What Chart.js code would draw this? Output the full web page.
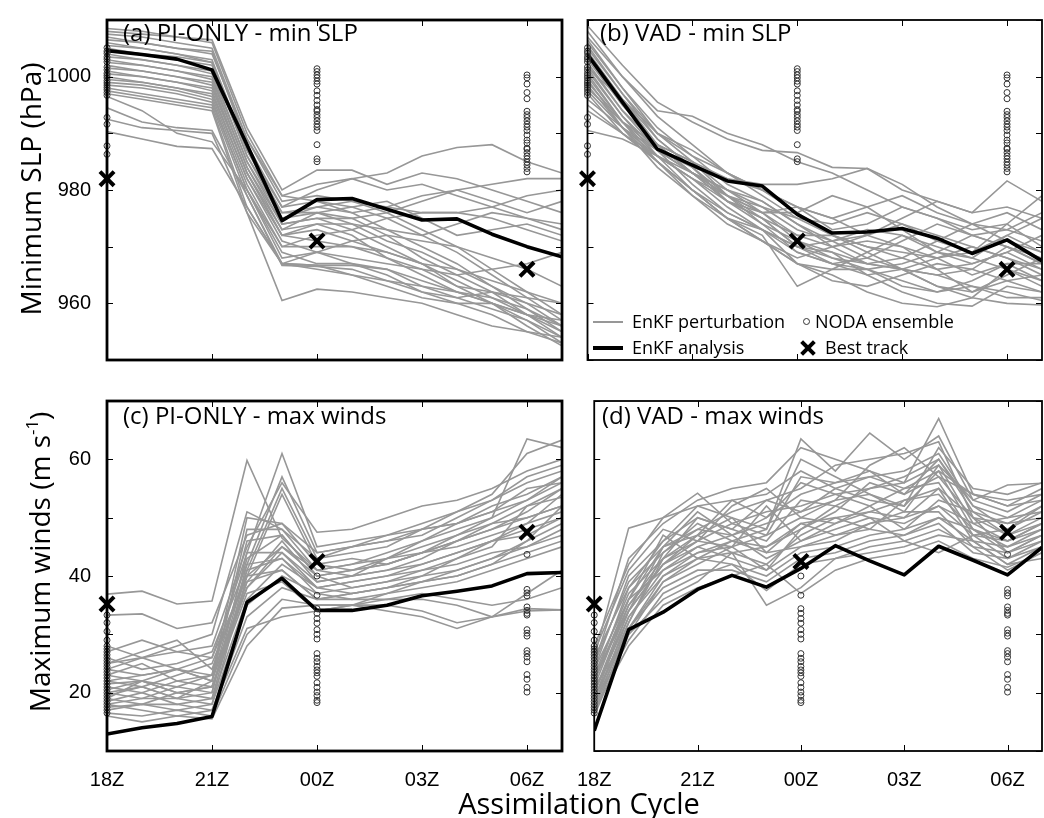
<!DOCTYPE html>
<html>
<head>
<meta charset="utf-8">
<script src="https://cdn.jsdelivr.net/npm/chart.js@4.4.1/dist/chart.umd.min.js"></script>
<style>
  html, body { margin:0; padding:0; background:#fff; }
  body { width:1044px; height:818px; position:relative; overflow:hidden; }
  canvas { position:absolute; }
  .t { position:absolute; font-family:"Open Sans", "Noto Sans", sans-serif; color:#000; white-space:nowrap; line-height:1; }
  .ptitle { font-size:24px; }
  .ytitle { font-size:28px; transform:translate(-50%,-50%) rotate(-90deg); }
  .ytitle sup { font-size:60%; vertical-align:0.7em; line-height:0; }
  .leg { font-size:18px; }
  .legline { position:absolute; }
  .legcirc { position:absolute; width:5px; height:5px; border:1px solid #333; border-radius:50%; }
  .legx { position:absolute; width:14px; height:14px; }
  .legx:before, .legx:after { content:""; position:absolute; left:-2px; top:5px; width:18px; height:4px; background:#000; }
  .legx:before { transform:rotate(45deg); }
  .legx:after { transform:rotate(-45deg); }
</style>
</head>
<body>
<canvas id="pa" width="526" height="380" style="left:40px;top:0px"></canvas>
<canvas id="pb" width="476" height="380" style="left:568px;top:0px"></canvas>
<canvas id="pc" width="526" height="437" style="left:40px;top:381px"></canvas>
<canvas id="pd" width="476" height="437" style="left:568px;top:381px"></canvas>

<div class="t ptitle" style="left:123px;top:20px">(a) PI-ONLY - min SLP</div>
<div class="t ptitle" style="left:600px;top:20px">(b) VAD - min SLP</div>
<div class="t ptitle" style="left:123px;top:403px">(c) PI-ONLY - max winds</div>
<div class="t ptitle" style="left:602px;top:403px">(d) VAD - max winds</div>

<div class="t ytitle" style="left:30px;top:189px">Minimum SLP (hPa)</div>
<div class="t ytitle" style="left:39px;top:562px">Maximum winds (m s<sup>-1</sup>)</div>
<div class="t" style="left:579px;top:802px;font-size:29px;transform:translate(-50%,-50%)">Assimilation Cycle</div>

<!-- legend in panel (b) -->
<div class="legline" style="left:593px;top:321px;width:30px;height:2px;background:#979797"></div>
<div class="t leg" style="left:632px;top:312px">EnKF perturbation</div>
<div class="legline" style="left:593px;top:346px;width:30px;height:4px;background:#000"></div>
<div class="t leg" style="left:632px;top:338px">EnKF analysis</div>
<div class="legcirc" style="left:803px;top:318px"></div>
<div class="t leg" style="left:815px;top:312px">NODA ensemble</div>
<div class="legx" style="left:801px;top:341px"></div>
<div class="t leg" style="left:825px;top:338px">Best track</div>

<script>
// ---------------- data ----------------
const HOURS = [0,1,2,3,4,5,6,7,8,9,10,11,12,13];
const TICK_HOURS = [0,3,6,9,12];
const TICK_LABELS = ['18Z','21Z','00Z','03Z','06Z'];
const SLP_TICKS = [950,960,970,980,990,1000,1010];
const SLP_LABELED = [960,980,1000];
const WIND_TICKS = [10,20,30,40,50,60,70];
const WIND_LABELED = [20,40,60];

const BEST_HOURS = [0,6,12];
const BEST_SLP = [982,971,966];
const BEST_WIND = [35.2,42.5,47.5];

const NODA_HOURS = [0,6,12];
const NODA_SLP_18Z = [1005.1,1004.5,1004.1,1003.5,1003.1,1002.6,1001.7,1001.2,1000.6,1000.2,999.8,999.3,998.9,998.5,998.1,997.7,997.2,996.7,992.8,991.6,987.8,986.3];
const NODA_SLP_00Z = [1001.4,1000.9,1000.3,999.8,999.2,998.7,997.5,996.7,995.8,995.0,994.2,993.9,993.3,992.8,992.2,991.6,991.1,990.5,988.0,985.5,985.0];
const NODA_SLP_06Z = [1000.3,999.8,998.7,997.2,996.1,993.9,993.3,992.8,992.2,991.6,991.1,990.5,989.7,988.8,988.3,987.4,987.2,986.6,986.0,985.5,984.9,984.4,983.8,983.2];
const NODA_WIND_18Z = [33.3,32,30.5,29,28,27.5,27,26.5,26,25.5,25,24.5,24,23.5,23,22.5,22,21.5,21,20.5,20,19.5,19,18.5,18,17.5,17,16.5];
const NODA_WIND_00Z = [40,36.7,34.4,33.6,32.7,31.9,30.8,30,29.2,26.7,25.9,25.3,24.5,23.9,23.4,22.8,21.7,20.9,20.1,19.5,18.7,18.3];
const NODA_WIND_06Z = [43.7,37.7,37.1,36.6,34.7,34.1,33.6,33.3,30.8,30.2,29.7,27.2,26.7,26.1,25.3,23.1,22.3,20.9,20.1];

const PI_SLP_ANALYSIS = [1004.6,1003.9,1003.1,1001.2,988,974.6,978.3,978.5,976.6,974.7,974.9,972.2,970,968.2];
const PI_SLP_MEMBERS = [
 [1008.5,1008,1007,1006,990,979,981,982,980,981,979,977,975,974],
 [1008,1007.5,1007,1006.5,991,980,983.5,983.5,981,983,982,980,978,976],
 [1007.5,1007,1006,1005,989,978,979,978,976,973,970,966,962,958],
 [1007,1006,1005,1004.5,988,977,978,977,975,972,969,965,961,957],
 [1006.5,1006,1005,1004,989,979,978,976,973,970,967,963,959,955],
 [1006,1005,1004,1003,987,976,977,976,977,979,980,978,976,978],
 [1005.5,1005,1004,1002.5,987,977,980,982,983,986,987.5,988,985,983],
 [1005,1004,1003,1002,986,975,976,975,972,968,965,962,958,954],
 [1004.5,1004,1003.5,1002.5,986,976,976,974,971,969,966,963,960,956],
 [1004,1003,1002,1001,985,975,977,978,977,976,976,977,979,980],
 [1003.5,1003,1002,1000.5,985,974,975,973,970,967,963,960,957,953],
 [1003,1002,1001,1000,984,973,976,977,978,975,972,973,974,972],
 [1002.5,1002,1001,999.5,984,974,975,975,976,978,980,981,982,982],
 [1002,1001,1000,999,983,973,974,972,968,965,962,960,956,952.5],
 [1001.5,1001,1000,998.5,983,972,974,974,973,972,974,976,975,973],
 [1001,1000,999,998,983,972,973,971,969,967,966,964,962,960],
 [1000.5,1000,999,997.5,982,972,971,970,969,967,964,961,958,955],
 [1000,999,998,997,982,971,969,967,965,962,960,958,955,953],
 [999.5,999,998,996.5,981,970,970,970,968,966,965,966,967,969],
 [999,998.5,997.5,996,980,969,967,967,966,963,961,959,957,954],
 [998.5,998,997,995.5,980,968,969,971,972,971,970,968,966,963],
 [998,997,996,995,979,967,966.7,966.7,966,964,962,960,958,956],
 [997.5,996.5,995.5,994.5,977,967,966.7,965,964,962,961,962,961,960],
 [997,996,995,994,976,967,966,965,963,961,960,960,958,957],
 [994.5,992,991,990.5,979,966.7,966.5,966,964,963,962,961,959,956],
 [992.5,991,990.5,990,976,960.5,962.5,962,961,960,958,956,955,954],
 [990.3,989,987.7,987.3,977,967,969,968,967,966,963,962,960,958],
 [996.5,994,990,988.5,980,970,972,973,975,976,976,975,973,971]
];

const VAD_SLP_ANALYSIS = [1003.9,995.5,987.2,984.4,981.6,980.7,975.7,972.4,972.6,973.2,971.5,968.8,971.2,967.5];
const VAD_SLP_MEMBERS = [
 [1009,1002,995.5,992,989,987,986.6,984,983.8,980,978,976,977,975],
 [1008,1000,993,988,983,980,977,975,977,979,976,974,976,973],
 [1007,1000,994,993,990,988,985,983,980,977,975,973,974,970],
 [1006.5,998,991,986,981,978,974,971,968,966,965,966,970,967],
 [1006,998,990,985,980,977,973,971,972,975,978,976,981.6,978],
 [1005.5,997,990,987,983,979,975,974,976,974,971,969,972,969],
 [1005,997,989,984,979,976,971,968,966,963,962,964,967,964],
 [1004.5,996,988,983,978,976,976,979,977,973,969,967,969,966],
 [1004,996,989,984,978,974,971,969,965,962,960,959.5,963,962],
 [1003.5,995,988,985,982,981,981,982,983.8,981,977,974,973,971],
 [1003,995,988,983,979,975,970,967,968,971,974,972,970,968],
 [1002.5,994,987,981,976,973,969,967,965,966,968,970,968,965],
 [1002,994,988,983,978,975,972,972,969,966,963,961,960,959.7],
 [1001.5,993,986,980,975,971,967,965,962,960,959.4,961,966,963],
 [1001,993,987,983,980,978,974,970,967,968,971,974,971,969],
 [1000.5,992,985,980,975,971,967,964,963,965,967,966,964,962],
 [1000,992,986,982,979,976,977,975,972,970,968,965,967,967],
 [999.5,991,985,979,975,973,970,971,973,972,969,968,966,964],
 [999,992,987,984,982,980,976,972,970,968,966,967,969,972],
 [998.5,991,984,979,974,971,968,970,972,974,972,970,968,966],
 [998,992,988,985,979,974,969,967,966,964,962,963,962,960.5],
 [997.5,991,986,982,977,973,967,966,969,972,970,968,972,975],
 [997,990,985,980,975,972,963,966,966,967,969,972,970,967],
 [996,991,987,983,979,977,975,972,970,969,968,969,974,979],
 [995,990,985,980,976,973,970,969,967,966,965,963,961,961],
 [994,990,986,983,980,976,972,970,971,970,966,962,964,965],
 [990.5,989,986,982,978,975,970,968,967,966,963,962,965,968],
 [1001.5,996,990,986,983,980,977,973,974,977,975,972,973,976]
];

const PI_WIND_ANALYSIS = [12.9,14.0,14.7,15.9,35.5,39.6,34.1,34.1,35,36.6,37.4,38.3,40.4,40.6];
const PI_WIND_MEMBERS = [
 [36.9,37.4,35.2,35.7,59.8,46.5,41,42,43,44,46,48,50,52],
 [33.3,33.5,31,32,47,49,44,45,46,48,49,51,53,56],
 [28,26,27,28,45,56,47.5,48,50,52,53,55,58,60],
 [27,29,27,26,44,61,45,46,47,49,51,54,61,63.3],
 [26,24,25,27,42,57,44,45,46,47,50,53,57,59],
 [25,27,29,24,41,55,43,44,45,48,51,53,56,58],
 [24,23,24,26,40,54,42,41,43,46,49,52,54,57],
 [23,25,22,23,50,49,42,43,42,44,47,50,63.5,62],
 [22,23,24,22,48,48,41,40,41,43,46,48,51,55],
 [21.5,22,21,23,46,47,40,41,42,44,45,47,49,54],
 [21,20,22,21,39,46,39,40,41,42,44,46,48,50],
 [20.5,22,20,21,38,45,40,38,39,41,43,45,52,53.5],
 [20,19,21,20,44,44,39,40,43,45,47,49,50,52],
 [19.5,21,19,20,42,43,38,39,40,41,42,44,45,47],
 [19,18,20,19,36,42,38,37,38,40,43,46,49,51],
 [18.5,20,18,19,41,43,37,38,39,40,41,43,46,49],
 [18,19,19,18,40,41,36,37,38,39,40,42,44,46],
 [17.5,18,17,18,35,40,37,36,37,38,39,41,43,45],
 [17,18,18,17,33,38,36,36,36,37,36,35,36,38],
 [16.5,16,17,16,30,36,35,35,36,36,35,33,34,34.2],
 [16,15,16,15.5,28,34.5,35,35,34,33,31,33,34.4,34.2],
 [22,21,23,25,40,45,41,42,44,46,48,50,53,57],
 [25,26,24,22,43,47,40,41,42,44,46,49,52,55],
 [19,22,24,23,38,44,38,39,40,42,44,46,47,50],
 [20,21,19,22,39,41,36,37,38,39,41,43,45,48],
 [23,22,20,21,37,39,34,35,37,39,40,42,46,52],
 [18,17,16,17,31,33,34,35,35,34,32,33,37,41],
 [24,26,28,30,51,48,43,45,47,48,49,51,55,56]
];

const VAD_WIND_ANALYSIS = [13.5,30.8,33.8,37.7,40.1,38.1,41.3,45.2,42.6,40.2,45.1,42.7,40.2,44.9];
const VAD_WIND_MEMBERS = [
 [26,48.2,50,52,53,54,58,55,53,52,62,55,54,56],
 [28,42,50,54.2,49,47,57,56,58,56,67,54,52,55],
 [24,40,46,52,50,48,63.5,58,64.5,60,64,53,51,54],
 [22,38,44,48,51,53,55,59,60,61,63,50,49,52],
 [21,36,45,47,53,50,54,56,57,58,61,52,48,51],
 [20,35,43,50,48,46,53,52,55,57,60,51,47,50],
 [19,34,42,46,49,51,52,54,55,56,59,49,46,49],
 [18,33,41,45,47,49,51,53,54,52,58,48,45,48],
 [17,32,44,49,46,45,48,51,56,54,57,50,44,47],
 [16.5,31,40,44,45,47,50,49,52,55,56,47,43,46],
 [16,30,39,43,44,42,47,50,51,50,55,46,42,45],
 [23,37,43,47,50,44,49,47,48,53,54,48,44,47],
 [25,39,45,51,47,43,46,48,50,49,52,47,46,48],
 [22,35,42,45,43,41,45,46,49,51,51,45,44,46],
 [20,33,40,43,42,40,44,45,47,48,50,46,45,47],
 [19,31,38,41,41,39,43,44,46,47,49,44,43,45],
 [18,29,37,40,42,37.5,42,43,45,46,48,45,41,44],
 [21,30,36,39,44,35,38,43,44,45,47,46,42,43],
 [17,28,35,38,40,42,37,41,43,44,46,43,41.5,44],
 [24,36,47,43,46,48,60,57,54,51,59,53,55.6,55.9],
 [27,41,48,46,52,55,50,53,59,62,57,54,52,53],
 [23,34,45,48,47,50,56,54,52,48,53,51,49,50],
 [19,32,43,46,45,52,46,49,51,53,55,50,47,49],
 [18,31,39,42,45,41,48,52,50,46,44,47,48,52],
 [22,36,41,44,46,44,45,47,49,50,52,49,50,53],
 [26,38,46,50,48,53,51,55,57,55,58,54,53,54],
 [20,34,42,47,44,45,49,50,48,47,50,48,46,49],
 [25,43,49,53,55,56,62,60,58,54,60,52,50,51]
];

// ---------------- drawing ----------------
const TICK_FONT = { family: "'Liberation Sans', Arial, sans-serif", size: 20 };
const GREY = '#979797';

const framePlugin = {
  id: 'frame',
  afterDatasetsDraw(chart, args, opts) {
    const { ctx, chartArea: { left, top, right, bottom }, scales: { x, y } } = chart;
    const L = 6;
    ctx.save();
    ctx.strokeStyle = '#000';
    ctx.lineWidth = 1;
    ctx.beginPath();
    x.ticks.forEach(t => {
      const px = Math.round(x.getPixelForValue(t.value)) + 0.5;
      ctx.moveTo(px, bottom); ctx.lineTo(px, bottom - L);
      ctx.moveTo(px, top); ctx.lineTo(px, top + L);
    });
    y.ticks.forEach(t => {
      const py = Math.round(y.getPixelForValue(t.value)) + 0.5;
      ctx.moveTo(left, py); ctx.lineTo(left + L, py);
      ctx.moveTo(right, py); ctx.lineTo(right - L, py);
    });
    ctx.stroke();
    ctx.lineWidth = opts.width || 2;
    ctx.strokeRect(left, top, right - left, bottom - top);
    ctx.restore();
  }
};

function pts(xs, ys) { return ys.map((v, i) => ({ x: xs[i], y: v })); }
function column(h, ys) { return ys.map(v => ({ x: h, y: v })); }

function buildPanel(id, o) {
  const datasets = [];
  datasets.push({
    label: 'Best track', data: pts(BEST_HOURS, o.best), showLine: false,
    pointStyle: 'crossRot', pointRadius: 10, pointBorderWidth: 4,
    pointBorderColor: '#000', borderColor: '#000', clip: false
  });
  datasets.push({
    label: 'NODA ensemble',
    data: [].concat(column(NODA_HOURS[0], o.noda[0]), column(NODA_HOURS[1], o.noda[1]), column(NODA_HOURS[2], o.noda[2])),
    showLine: false, pointStyle: 'circle', pointRadius: 3, pointBorderWidth: 1,
    pointBorderColor: '#333', pointBackgroundColor: 'rgba(255,255,255,0)', clip: false
  });
  datasets.push({
    label: 'EnKF analysis', data: pts(HOURS, o.analysis),
    borderColor: '#000', borderWidth: 3.6, pointRadius: 0, tension: 0, borderJoinStyle: 'round'
  });
  o.members.forEach(m => datasets.push({
    label: 'EnKF perturbation', data: pts(HOURS, m),
    borderColor: GREY, borderWidth: 1.6, pointRadius: 0, tension: 0
  }));

  return new Chart(document.getElementById(id), {
    type: 'line',
    data: { datasets },
    plugins: [framePlugin],
    options: {
      responsive: false, animation: false, devicePixelRatio: 1, events: [],
      layout: { padding: { top: o.padTop, right: o.padRight, left: 0, bottom: 0 }, autoPadding: false },
      plugins: { legend: { display: false }, tooltip: { enabled: false }, frame: { width: o.frameWidth } },
      scales: {
        x: {
          type: 'linear', min: 0, max: 13,
          grid: { display: false }, border: { display: false },
          afterBuildTicks: s => { s.ticks = TICK_HOURS.map(v => ({ value: v })); },
          afterFit: s => { s.height = o.xHeight; },
          ticks: {
            autoSkip: false, maxRotation: 0, minRotation: 0, padding: 9, color: '#000', font: TICK_FONT,
            callback: v => o.xLabels ? TICK_LABELS[TICK_HOURS.indexOf(v)] : ''
          }
        },
        y: {
          type: 'linear', min: o.range[0], max: o.range[1],
          grid: { display: false }, border: { display: false },
          afterBuildTicks: s => { s.ticks = o.yTicks.map(v => ({ value: v })); },
          afterFit: s => { s.width = o.yWidth; },
          ticks: {
            autoSkip: false, padding: 8, color: '#000', font: TICK_FONT,
            callback: v => (o.yLabels && o.yLabeled.includes(v)) ? String(v) : ''
          }
        }
      }
    }
  });
}

buildPanel('pa', { best: BEST_SLP, noda: [NODA_SLP_18Z, NODA_SLP_00Z, NODA_SLP_06Z], analysis: PI_SLP_ANALYSIS, members: PI_SLP_MEMBERS,
  range: [950, 1010], yTicks: SLP_TICKS, yLabeled: SLP_LABELED, yLabels: true, xLabels: false,
  padTop: 10, padRight: 4, yWidth: 67, xHeight: 13, frameWidth: 2.8 });
buildPanel('pb', { best: BEST_SLP, noda: [NODA_SLP_18Z, NODA_SLP_00Z, NODA_SLP_06Z], analysis: VAD_SLP_ANALYSIS, members: VAD_SLP_MEMBERS,
  range: [950, 1010], yTicks: SLP_TICKS, yLabeled: SLP_LABELED, yLabels: false, xLabels: false,
  padTop: 10, padRight: 2, yWidth: 19.5, xHeight: 13, frameWidth: 1.8 });
buildPanel('pc', { best: BEST_WIND, noda: [NODA_WIND_18Z, NODA_WIND_00Z, NODA_WIND_06Z], analysis: PI_WIND_ANALYSIS, members: PI_WIND_MEMBERS,
  range: [10, 70], yTicks: WIND_TICKS, yLabeled: WIND_LABELED, yLabels: true, xLabels: true,
  padTop: 10, padRight: 4, yWidth: 67, xHeight: 67, frameWidth: 2.8 });
buildPanel('pd', { best: BEST_WIND, noda: [NODA_WIND_18Z, NODA_WIND_00Z, NODA_WIND_06Z], analysis: VAD_WIND_ANALYSIS, members: VAD_WIND_MEMBERS,
  range: [10, 70], yTicks: WIND_TICKS, yLabeled: WIND_LABELED, yLabels: false, xLabels: true,
  padTop: 10, padRight: 2, yWidth: 19.5, xHeight: 67, frameWidth: 1.8 });
</script>
</body>
</html>
